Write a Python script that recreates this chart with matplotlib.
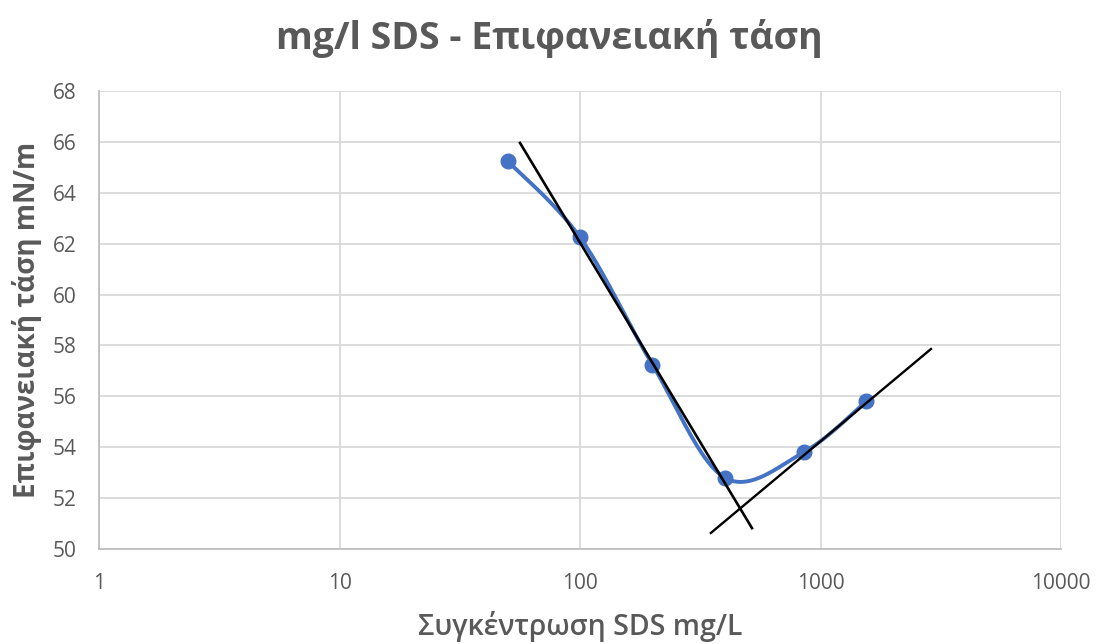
import numpy as np
import matplotlib
matplotlib.use("Agg")
import matplotlib.pyplot as plt
from matplotlib.ticker import FixedLocator, FixedFormatter, NullLocator

plt.rcParams['font.family'] = ['Open Sans', 'DejaVu Sans']

# Measured surface tension vs SDS concentration
conc = [50, 100, 200, 400, 850, 1550]            # mg/L
tension = [65.25, 62.25, 57.25, 52.8, 53.8, 55.8]  # mN/m

# Hand-drawn tangent lines (endpoints in data units)
tan1_x = [56.3, 519]
tan1_y = [65.96, 50.82]
tan2_x = [350, 2880]
tan2_y = [50.63, 57.86]

x_ticks = [1, 10, 100, 1000, 10000]
x_tick_labels = ['1', '10', '100', '1000', '10000']
y_ticks = list(range(50, 69, 2))

grey_text = '#595959'
grid_col = '#d9d9d9'
blue = '#4472C4'


def smooth_curve(xs, ys, n=40):
    """Catmull-Rom style smoothing in log-x space (spreadsheet-like smoothed line)."""
    lx = np.log10(np.asarray(xs, float))
    yy = np.asarray(ys, float)
    # scale both axes to comparable screen-like units
    sx, sy = 240.5, 25.44
    P = np.column_stack([lx * sx, yy * sy])
    out = []
    for i in range(len(P) - 1):
        p0 = P[i - 1] if i > 0 else P[i]
        p1 = P[i]
        p2 = P[i + 1]
        p3 = P[i + 2] if i + 2 < len(P) else P[i + 1]
        c1 = p1 + (p2 - p0) / 6.0
        c2 = p2 - (p3 - p1) / 6.0
        t = np.linspace(0, 1, n)[:, None]
        seg = ((1 - t) ** 3) * p1 + 3 * ((1 - t) ** 2) * t * c1 + 3 * (1 - t) * t ** 2 * c2 + t ** 3 * p2
        out.append(seg if i == 0 else seg[1:])
    C = np.vstack(out)
    return 10 ** (C[:, 0] / sx), C[:, 1] / sy


fig = plt.figure(figsize=(10.99, 6.44), dpi=100)
ax = fig.add_axes([99 / 1099, 1 - 549 / 644, (1061 - 99) / 1099, (549 - 91) / 644])

ax.set_xscale('log')
ax.set_xlim(1, 10000)
ax.set_ylim(50, 68)

ax.xaxis.set_major_locator(FixedLocator(x_ticks))
ax.xaxis.set_major_formatter(FixedFormatter(x_tick_labels))
ax.xaxis.set_minor_locator(NullLocator())
ax.set_yticks(y_ticks)

ax.grid(True, which='major', color=grid_col, linewidth=1.3)
ax.set_axisbelow(True)
for side in ['top', 'right']:
    ax.spines[side].set_visible(False)
for side in ['left', 'bottom']:
    ax.spines[side].set_color('#bfbfbf')
    ax.spines[side].set_linewidth(1.3)
ax.tick_params(length=0, labelsize=15, labelcolor=grey_text)
ax.tick_params(axis='y', pad=16)
ax.tick_params(axis='x', pad=17)

sx_, sy_ = smooth_curve(conc, tension)
ax.plot(sx_, sy_, color=blue, linewidth=2.8, zorder=3, solid_capstyle='round')
ax.plot(conc, tension, 'o', color=blue, markersize=10.5, zorder=4)

ax.plot(tan1_x, tan1_y, color='black', linewidth=1.9, zorder=5)
ax.plot(tan2_x, tan2_y, color='black', linewidth=1.7, zorder=5)

fig.text(0.5, 1 - 38 / 644, 'mg/l SDS - Επιφανειακή τάση', ha='center', va='center',
         fontsize=27, fontweight='bold', color=grey_text)
fig.text(580 / 1099, 1 - 627 / 644, 'Συγκέντρωση SDS mg/L', ha='center', va='center',
         fontsize=20.5, fontweight='semibold', color=grey_text)
fig.text(27 / 1099, 1 - 320 / 644, 'Επιφανειακή τάση mN/m', ha='center', va='center',
         rotation=90, fontsize=20, fontweight='bold', color=grey_text)

fig.savefig('out.png', dpi=100)
